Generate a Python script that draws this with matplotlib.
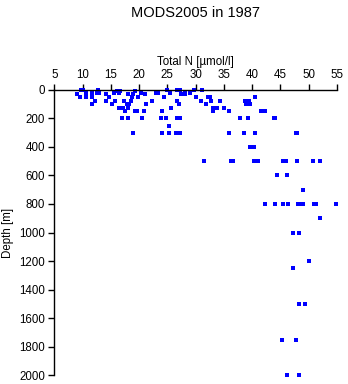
import matplotlib
matplotlib.use("Agg")
import matplotlib.pyplot as plt

plt.rcParams['font.family'] = ['Liberation Sans', 'DejaVu Sans']

# Total nitrogen [umol/l] and sample depth [m], MODS2005 stations in 1987
total_n = [9.1, 9.5, 9.8, 10.1, 10.6, 10.6, 11.6, 11.7, 11.7, 12.2,
           12.5, 12.8, 12.9, 14.1, 14.1, 14.6, 15.2, 15.5, 15.8, 16.1,
           16.4, 16.5, 16.7, 16.9, 17.2, 17.4, 17.5, 17.9, 18.0, 18.0,
           18.1, 18.2, 18.5, 18.9, 18.7, 19.0, 19.2, 19.2, 19.6, 19.9,
           20.3, 20.6, 20.9, 21.1, 21.3, 22.3, 23.0, 23.3, 23.8, 24.1,
           24.1, 24.5, 24.8, 25.0, 25.3, 25.4, 25.3, 25.6, 26.5, 26.8,
           26.8, 27.0, 26.8, 27.4, 28.1,
           27.3, 27.5, 28.1, 29.0, 29.7, 30.0, 31.1, 30.9, 31.8, 32.2,
           32.5, 32.7, 33.0, 33.0, 33.8, 34.3, 35.0, 36.0, 38.8, 38.9,
           39.5, 39.7, 40.5, 37.8, 39.3, 41.5, 42.2, 43.8, 44.1, 27.3,
           27.3, 35.9, 38.5, 40.6, 47.7, 48.0, 39.7, 40.4,
           31.5, 36.3, 36.6, 40.3, 41.1, 45.5, 46.0, 48.0, 50.7, 52.1,
           44.4, 46.1, 49.0,
           42.2, 44.0, 45.5, 46.3, 48.2, 48.6, 49.0, 51.0, 51.3, 54.8,
           52.1, 47.3, 48.3, 50.0, 47.3, 48.3, 49.4,
           45.3, 47.8, 46.2, 48.3]
depth = [30, 50, 0, 0, 20, 50, 20, 50, 100, 75,
         20, 0, 20, 30, 75, 50, 100, 20, 75, 10,
         125, 20, 10, 200, 125, 75, 150, 100, 30, 200,
         125, 100, 75, 300, 50, 30, 10, 150, 150, 50,
         20, 200, 150, 30, 100, 75, 20, 20, 200, 150,
         300, 50, 200, 0, 300, 20, 250, 125, 300, 75,
         200, 100, 0, 30, 20,
         0, 30, 30, 20, 0, 50, 0, 75, 100, 50,
         50, 75, 125, 150, 125, 75, 125, 150, 75, 100,
         75, 100, 50, 200, 200, 150, 150, 200, 200, 200,
         300, 300, 300, 300, 300, 300, 400, 400,
         500, 500, 500, 500, 500, 500, 500, 500, 500, 500,
         600, 600, 700,
         800, 800, 800, 800, 800, 800, 800, 800, 800, 800,
         900, 1000, 1000, 1200, 1250, 1500, 1500,
         1750, 1750, 2000, 2000]

x_ticks = [5, 10, 15, 20, 25, 30, 35, 40, 45, 50, 55]
y_ticks = [0, 200, 400, 600, 800, 1000, 1200, 1400, 1600, 1800, 2000]

fig = plt.figure(figsize=(3.48, 3.84), dpi=100)
ax = fig.add_axes([0.156, 0.023, 0.812, 0.743])

ax.plot(total_n, depth, 's', color='#0000ff', markersize=2.3,
        markeredgewidth=0, clip_on=False)

ax.set_xlim(5, 55)
ax.set_ylim(2000, 0)
ax.set_xticks(x_ticks)
ax.set_yticks(y_ticks)

ax.spines['right'].set_visible(False)
ax.spines['bottom'].set_visible(False)
ax.spines['top'].set_linewidth(1.0)
ax.spines['left'].set_linewidth(1.0)
ax.xaxis.set_ticks_position('top')
ax.xaxis.set_label_position('top')
ax.tick_params(axis='both', direction='out', length=4.5, width=1.0,
               labelsize=8.3, pad=2)

ax.set_xlabel('Total N [µmol/l]', fontsize=8.3, labelpad=3)
ax.set_ylabel('Depth [m]', fontsize=8.3, labelpad=4)
fig.suptitle('MODS2005 in 1987', fontsize=10.5, x=0.563, y=0.985)

fig.savefig('out.png', dpi=100)
